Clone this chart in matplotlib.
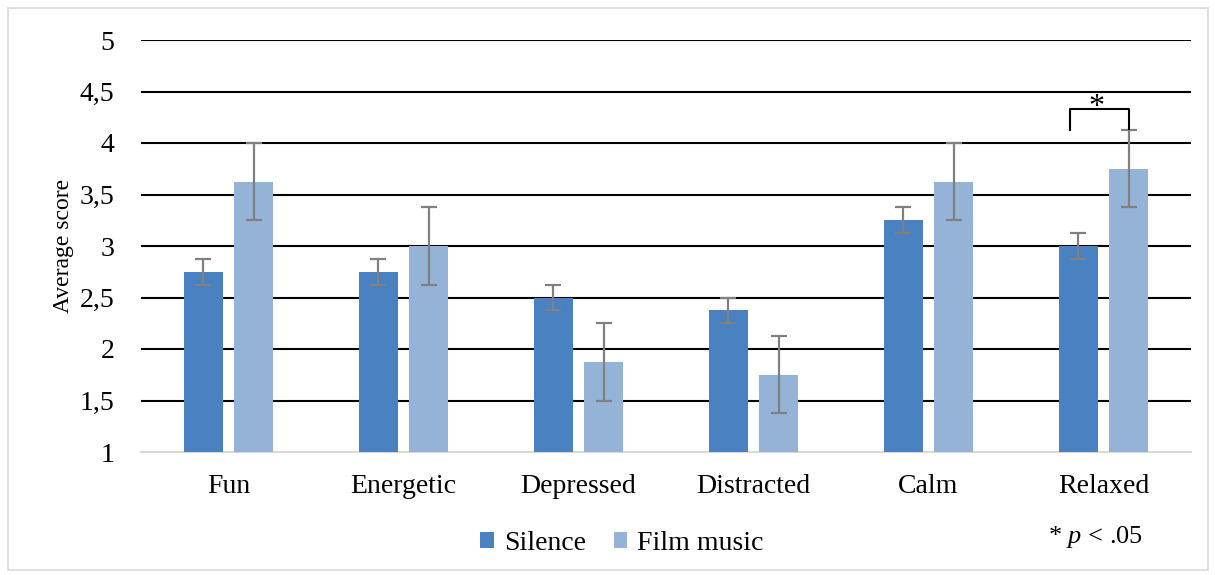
import numpy as np
import matplotlib.pyplot as plt
from matplotlib.patches import Rectangle

categories = ["Fun", "Energetic", "Depressed", "Distracted", "Calm", "Relaxed"]
silence = [2.75, 2.75, 2.5, 2.375, 3.25, 3.0]
silence_err = [0.125, 0.125, 0.125, 0.125, 0.125, 0.125]
film = [3.625, 3.0, 1.875, 1.75, 3.625, 3.75]
film_err = [0.375, 0.375, 0.375, 0.375, 0.375, 0.375]
yticks = [1, 1.5, 2, 2.5, 3, 3.5, 4, 4.5, 5]
ytick_labels = ["1", "1,5", "2", "2,5", "3", "3,5", "4", "4,5", "5"]

plt.rcParams['font.family'] = ['Liberation Serif', 'DejaVu Serif']
plt.rcParams['mathtext.fontset'] = 'custom'
plt.rcParams['mathtext.rm'] = 'Liberation Serif'
plt.rcParams['mathtext.it'] = 'Liberation Serif:italic'

fig = plt.figure(figsize=(12.15, 5.75), dpi=100)
ax = fig.add_axes([141 / 1215, 1 - 452 / 575, 1050 / 1215, 412 / 575])

# light grey frame round the whole chart
fig.patches.append(Rectangle((8 / 1215, 5 / 575), 1200 / 1215, 562 / 575,
                             transform=fig.transFigure, fill=False,
                             edgecolor='#d9d9d9', linewidth=1.2))

x = np.arange(len(categories))
w = 0.225
off = 0.143
err_kw = dict(ecolor='#808080', elinewidth=1.6, capsize=6, capthick=1.6)

ax.bar(x - off, silence, w, color='#4a81c0', label='Silence',
       yerr=silence_err, error_kw=err_kw, zorder=3)
ax.bar(x + off, film, w, color='#95b3d7', label='Film music',
       yerr=film_err, error_kw=err_kw, zorder=3)

ax.set_ylim(1, 5)
ax.set_xlim(-0.5, len(categories) - 0.5)
ax.set_yticks(yticks)
ax.set_yticklabels(ytick_labels)
ax.set_xticks(x)
ax.set_xticklabels(categories)
ax.tick_params(axis='both', length=0, labelsize=20)
ax.tick_params(axis='y', pad=19)
ax.tick_params(axis='x', pad=16)
for t in yticks[1:]:
    ax.axhline(t, color='black', linewidth=1.5, zorder=1)
for s in ['top', 'right', 'left']:
    ax.spines[s].set_visible(False)
ax.spines['bottom'].set_color('#d9d9d9')
ax.spines['bottom'].set_linewidth(1.5)
ax.set_ylabel('Average score', fontsize=17, labelpad=4)

# significance bracket for Relaxed
i = 5
y_top = 4.33
ax.plot([i - off - 0.05, i - off - 0.05, i + off, i + off],
        [4.13, y_top, y_top, 4.14], color='black', linewidth=1.5, zorder=4)
ax.text(i - 0.04, 4.20, '*', ha='center', va='bottom', fontsize=23)

leg = ax.legend(loc='center', bbox_to_anchor=(0.458, -0.222), ncol=2,
                frameon=False, fontsize=20, handlelength=0.5,
                handleheight=0.5, handletextpad=0.35, columnspacing=1.0)

fig.text(1048 / 1215, 1 - 537 / 575, '* $p$ < .05', fontsize=19,
         va='center', ha='left')

fig.savefig('out.png', dpi=100)
